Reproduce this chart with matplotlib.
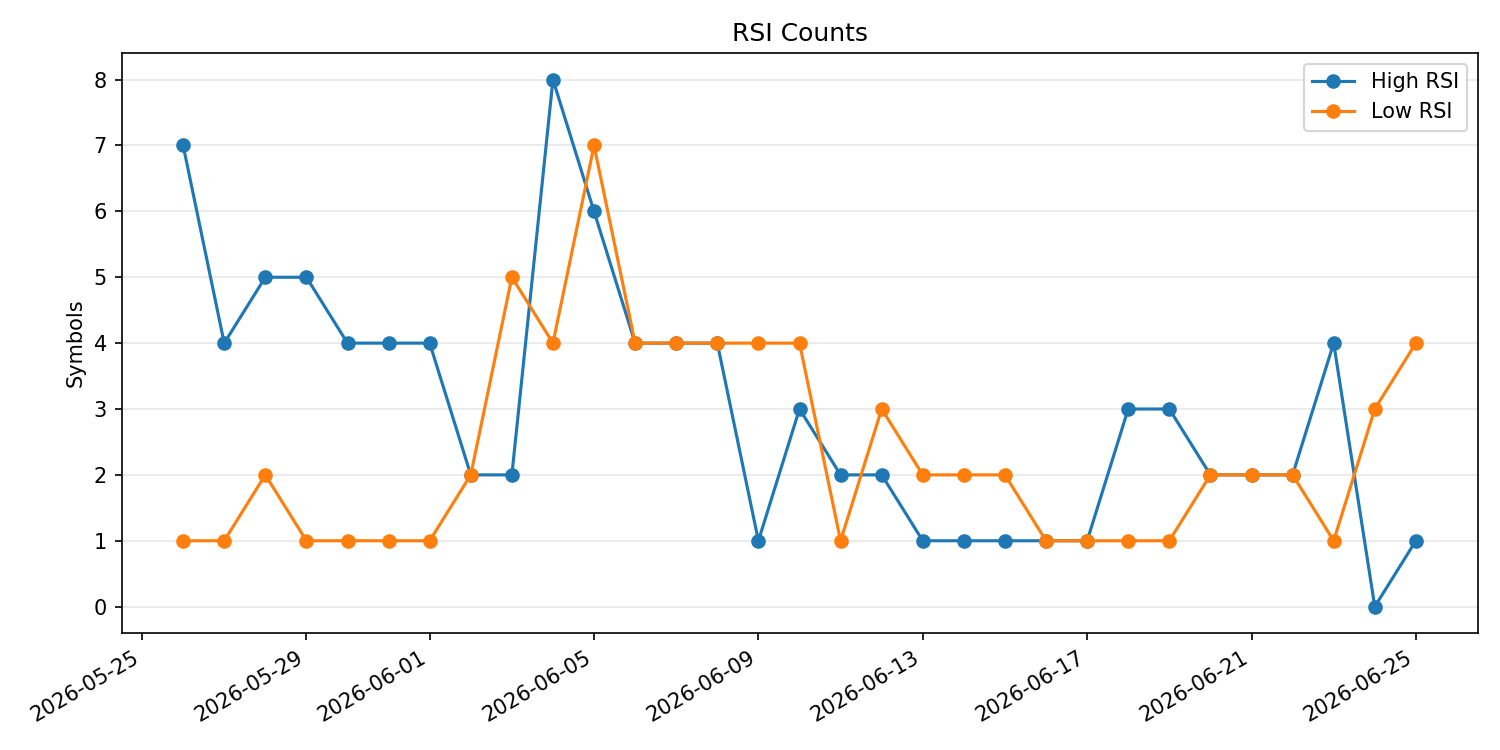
import matplotlib
matplotlib.use("Agg")
import matplotlib.pyplot as plt
import matplotlib.dates as mdates
import pandas as pd

dates = pd.date_range("2026-05-26", "2026-06-25", freq="D")
high_rsi = [7, 4, 5, 5, 4, 4, 4, 2, 2, 8, 6, 4, 4, 4, 1, 3, 2, 2, 1, 1, 1, 1, 1, 3, 3, 2, 2, 2, 4, 0, 1]
low_rsi = [1, 1, 2, 1, 1, 1, 1, 2, 5, 4, 7, 4, 4, 4, 4, 4, 1, 3, 2, 2, 2, 1, 1, 1, 1, 2, 2, 2, 1, 3, 4]

fig, ax = plt.subplots(figsize=(10, 5), dpi=150)
ax.plot(dates, high_rsi, marker="o", label="High RSI")
ax.plot(dates, low_rsi, marker="o", label="Low RSI")
ax.set_title("RSI Counts")
ax.set_ylabel("Symbols")
ax.grid(axis="y", alpha=0.3)
ax.legend(loc="upper right")
ax.xaxis.set_major_locator(mdates.DayLocator(bymonthday=[1, 5, 9, 13, 17, 21, 25, 29]))
ax.xaxis.set_major_formatter(mdates.DateFormatter("%Y-%m-%d"))
fig.autofmt_xdate()
fig.subplots_adjust(left=0.081, right=0.985, top=0.929, bottom=0.156)
fig.savefig("out.png")
